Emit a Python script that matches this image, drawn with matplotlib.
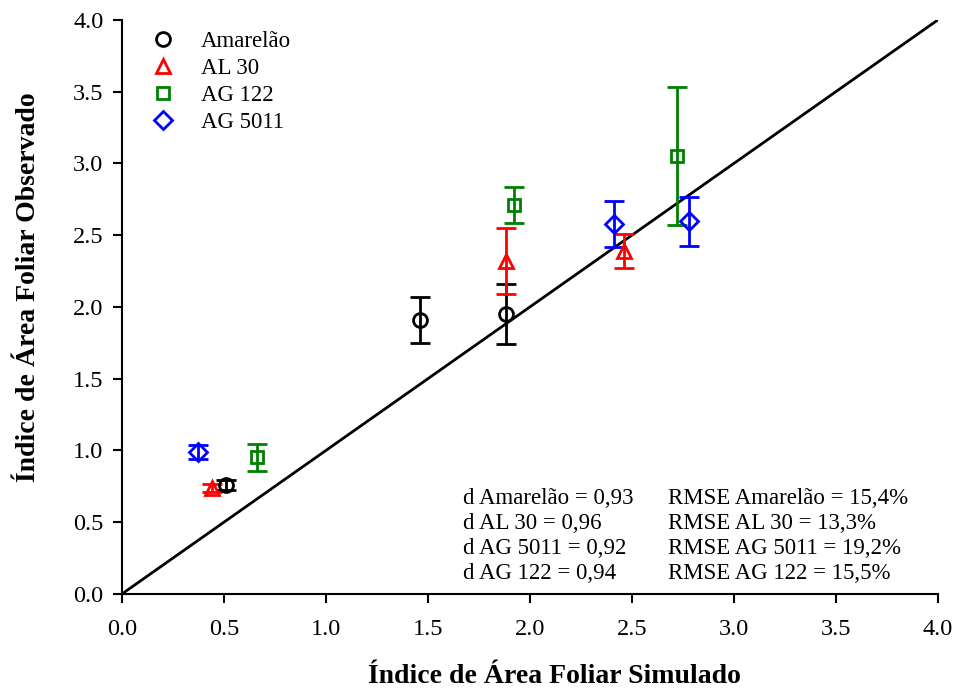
import matplotlib.pyplot as plt
from matplotlib.lines import Line2D

plt.rcParams["font.family"] = ["Liberation Serif", "DejaVu Serif"]

# simulated vs observed leaf area index, with std. dev. of observed
amarelao_x = [0.51, 1.46, 1.88]
amarelao_y = [0.755, 1.91, 1.95]
amarelao_err = [0.035, 0.16, 0.21]

al30_x = [0.44, 1.88, 2.46]
al30_y = [0.737, 2.32, 2.39]
al30_err = [0.03, 0.23, 0.12]

ag122_x = [0.66, 1.92, 2.72]
ag122_y = [0.95, 2.71, 3.05]
ag122_err = [0.095, 0.125, 0.48]

ag5011_x = [0.37, 2.41, 2.78]
ag5011_y = [0.99, 2.58, 2.595]
ag5011_err = [0.05, 0.16, 0.17]

stats_text = [
    ("d Amarelão = 0,93", "RMSE Amarelão = 15,4%"),
    ("d AL 30 = 0,96", "RMSE AL 30 = 13,3%"),
    ("d AG 5011 = 0,92", "RMSE AG 5011 = 19,2%"),
    ("d AG 122 = 0,94", "RMSE AG 122 = 15,5%"),
]

fig = plt.figure(figsize=(9.55, 6.88), dpi=100)
ax = fig.add_axes([0.128, 0.137, 0.854, 0.834])

ax.plot([0, 4], [0, 4], color="black", lw=2, zorder=1)

series = [
    ("Amarelão", amarelao_x, amarelao_y, amarelao_err, "o", "black"),
    ("AL 30", al30_x, al30_y, al30_err, "^", "red"),
    ("AG 122", ag122_x, ag122_y, ag122_err, "s", "green"),
    ("AG 5011", ag5011_x, ag5011_y, ag5011_err, "D", "blue"),
]
sizes = {"o": 10, "^": 10, "s": 8, "D": 9}
handles = []
for name, x, y, err, m, c in series:
    ax.errorbar(x, y, yerr=err, fmt=m, ms=sizes[m], mfc="none", mec=c,
                mew=2, ecolor=c, elinewidth=2, capsize=7, capthick=2,
                zorder=3)
    handles.append(Line2D([], [], ls="none", marker=m, ms=sizes[m], mfc="none",
                          mec=c, mew=2, label=name))

ax.set_xlim(0, 4)
ax.set_ylim(0, 4)
ax.set_xticks([i * 0.5 for i in range(9)])
ax.set_yticks([i * 0.5 for i in range(9)])
ax.xaxis.set_major_formatter(plt.FormatStrFormatter("%.1f"))
ax.yaxis.set_major_formatter(plt.FormatStrFormatter("%.1f"))
ax.tick_params(direction="out", length=6.5, width=1.5, labelsize=17.5)
ax.tick_params(axis="x", pad=12)
ax.tick_params(axis="y", pad=7)
ax.spines["top"].set_visible(False)
ax.spines["right"].set_visible(False)
ax.spines["left"].set_linewidth(1.5)
ax.spines["bottom"].set_linewidth(1.5)

ax.set_xlabel("Índice de Área Foliar Simulado", fontsize=20, fontweight="bold")
ax.set_ylabel("Índice de Área Foliar Observado", fontsize=20, fontweight="bold")
ax.xaxis.set_label_coords(0.53, -0.122)
ax.yaxis.set_label_coords(-0.100, 0.534)

ax.legend(handles=handles, loc="upper left", bbox_to_anchor=(0.004, 1.016), frameon=False,
          fontsize=16.5, handletextpad=0.9, labelspacing=0.25, handlelength=1.5)

for i, (d, r) in enumerate(stats_text):
    yy = 0.166 - i * 0.0438
    ax.text(0.418, yy, d, transform=ax.transAxes, fontsize=16.5, va="center")
    ax.text(0.669, yy, r, transform=ax.transAxes, fontsize=16.5, va="center")

fig.savefig("out.png", dpi=100)
